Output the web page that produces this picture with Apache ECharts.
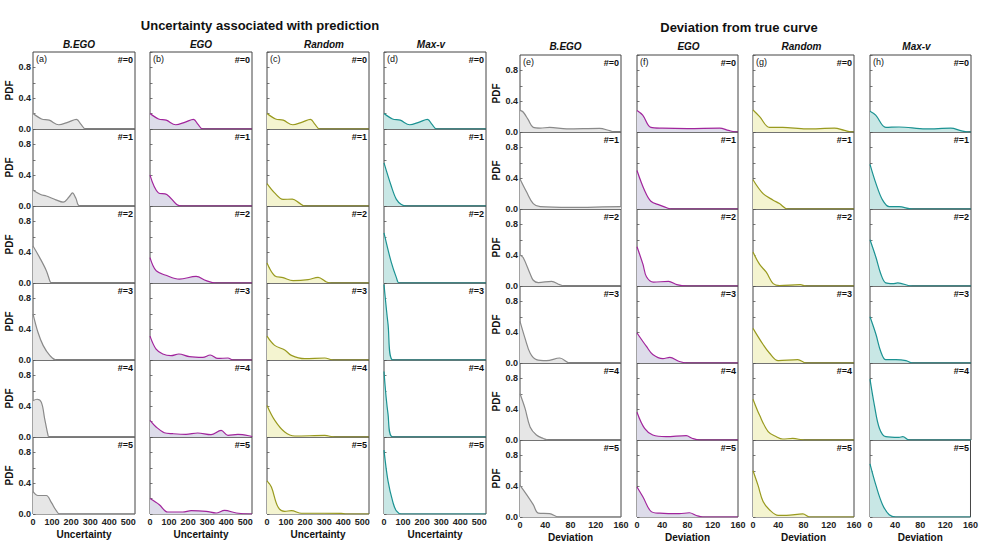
<!DOCTYPE html>
<html>
<head>
<meta charset="utf-8">
<script src="https://cdn.jsdelivr.net/npm/echarts@6/dist/echarts.min.js"></script>
<style>
  html, body { margin: 0; padding: 0; background: #fff; }
  #chart { width: 981px; height: 552px; }
</style>
</head>
<body>
<div id="chart"></div>
<script>
// methods (columns) and rounds (rows)
const methods = ["B.EGO", "EGO", "Random", "Max-v"];
const rounds = [0, 1, 2, 3, 4, 5];
const panelLetters = ["(a)", "(b)", "(c)", "(d)", "(e)", "(f)", "(g)", "(h)"];
const pdfTicks = [0.0, 0.4, 0.8];
const uncTicks = [0, 100, 200, 300, 400, 500];
const devTicks = [0, 40, 80, 120, 160];

// uncertainty PDFs, one curve per round: [uncertainty, pdf]
const uncStart = [[0, 0.2], [45, 0.13], [85, 0.115], [135, 0.055], [185, 0.09], [228, 0.125], [252, 0.06], [276, 0]];
const uncBEGO = [
  uncStart,
  [[0, 0.205], [40, 0.15], [70, 0.13], [120, 0.08], [158, 0.05], [190, 0.12], [207, 0.17], [225, 0.1], [245, 0]],
  [[0, 0.48], [35, 0.33], [70, 0.16], [88, 0.03], [96, 0]],
  [[0, 0.6], [26, 0.36], [53, 0.19], [88, 0.06], [123, 0]],
  [[0, 0.47], [21, 0.49], [44, 0.45], [61, 0.24], [79, 0.02], [84, 0]],
  [[0, 0.29], [26, 0.24], [70, 0.24], [96, 0.15], [123, 0.04], [140, 0]]
];
const uncEGO = [
  uncStart,
  [[0, 0.4], [44, 0.17], [88, 0.15], [140, 0.02], [167, 0]],
  [[0, 0.33], [32, 0.16], [84, 0.1], [154, 0.05], [242, 0.086], [295, 0.03], [347, 0]],
  [[0, 0.31], [32, 0.14], [67, 0.078], [110, 0.056], [151, 0.078], [207, 0.043], [277, 0.034], [316, 0.065], [356, 0.02], [409, 0.026], [435, 0]],
  [[0, 0.215], [32, 0.13], [75, 0.056], [119, 0.043], [189, 0.034], [250, 0.052], [320, 0.03], [373, 0.086], [409, 0.022], [461, 0.034], [531, 0.01]],
  [[0, 0.2], [49, 0.12], [93, 0.026], [172, 0.026], [216, 0.043], [295, 0.034], [347, 0.013], [391, 0.047], [453, 0.013], [523, 0]]
];
const uncRandom = [
  uncStart,
  [[0, 0.29], [40, 0.17], [84, 0.086], [133, 0.09], [172, 0.034], [198, 0]],
  [[0, 0.26], [40, 0.095], [84, 0.069], [137, 0.03], [216, 0.043], [268, 0.073], [312, 0.013], [339, 0]],
  [[0, 0.31], [40, 0.19], [93, 0.13], [128, 0.06], [198, 0.017], [303, 0.026], [347, 0]],
  [[0, 0.41], [40, 0.22], [93, 0.065], [146, 0.013], [303, 0.02], [356, 0]],
  [[0, 0.43], [23, 0.35], [58, 0.09], [93, 0.035], [128, 0.043], [181, 0.01], [300, 0.01], [390, 0.008], [410, 0]]
];
const uncMaxv = [
  uncStart,
  [[0, 0.56], [38, 0.26], [65, 0.086], [91, 0.02], [117, 0]],
  [[0, 0.65], [38, 0.27], [65, 0.07], [80, 0]],
  [[0, 0.98], [21, 0.47], [47, 0]],
  [[0, 0.85], [21, 0.3], [47, 0]],
  [[0, 0.83], [21, 0.43], [47, 0.15], [65, 0.04], [91, 0]]
];

// deviation PDFs, one curve per round: [deviation, pdf]
const devBEGO = [
  [[0, 0.28], [5, 0.26], [13, 0.16], [21, 0.06], [32, 0.05], [47, 0.06], [74, 0.04], [126, 0.047], [142, 0.017], [150, 0]],
  [[0, 0.39], [10.5, 0.22], [21, 0.07], [32, 0.03], [80, 0.02], [158, 0.03], [160, 0.03]],
  [[0, 0.4], [5, 0.37], [16, 0.16], [21, 0.075], [29, 0.045], [50, 0.06], [63, 0.017], [71, 0]],
  [[0, 0.54], [8, 0.32], [16, 0.13], [26, 0.043], [42, 0.03], [63, 0.065], [79, 0]],
  [[0, 0.6], [8, 0.41], [16, 0.17], [26, 0.065], [37, 0.02], [45, 0]],
  [[0, 0.41], [10.5, 0.29], [21, 0.16], [29, 0.05], [47, 0.043], [61, 0]]
];
const devEGO = [
  [[0, 0.28], [9, 0.22], [22, 0.06], [40, 0.05], [80, 0.045], [131, 0.05], [145, 0.02], [158, 0]],
  [[0, 0.5], [12, 0.24], [22, 0.1], [36, 0.05], [49, 0.01], [55, 0]],
  [[0, 0.51], [9.5, 0.28], [15, 0.12], [26, 0.05], [50, 0.06], [63, 0.017], [79, 0]],
  [[0, 0.39], [15, 0.215], [25, 0.11], [41, 0.056], [52, 0.073], [67, 0.02], [83, 0]],
  [[0, 0.36], [12, 0.15], [25, 0.065], [46, 0.043], [78, 0.056], [88, 0.02], [99, 0]],
  [[0, 0.39], [9.5, 0.26], [22.6, 0.07], [36, 0.05], [67, 0.043], [83, 0.055], [94, 0.02], [104, 0]]
];
const devRandom = [
  [[0, 0.285], [10.5, 0.2], [26, 0.06], [47, 0.06], [84, 0.04], [129, 0.05], [145, 0.02], [158, 0]],
  [[0, 0.38], [16, 0.2], [32, 0.115], [42, 0.07], [55, 0]],
  [[0, 0.44], [10.5, 0.28], [21, 0.18], [32, 0.03], [42, 0.005], [75, 0.017], [84, 0]],
  [[0, 0.45], [16, 0.24], [26, 0.13], [40, 0.03], [71, 0.043], [84, 0]],
  [[0, 0.53], [10.5, 0.32], [24, 0.11], [37, 0.043], [47, 0.013], [63, 0.02], [82, 0]],
  [[0, 0.6], [8, 0.41], [16, 0.2], [26, 0.094], [40, 0.02], [53, 0.02], [79, 0.04], [90, 0]]
];
const devMaxv = [
  [[0, 0.27], [9, 0.22], [25, 0.06], [46, 0.065], [88, 0.04], [128, 0.05], [145, 0.015], [157, 0]],
  [[0, 0.58], [9.5, 0.33], [20, 0.115], [30.6, 0.03], [46, 0.03], [67, 0]],
  [[0, 0.6], [9.5, 0.37], [17, 0.16], [25, 0.04], [36, 0.03], [44, 0.04], [67, 0]],
  [[0, 0.6], [9.5, 0.37], [17, 0.15], [25, 0.043], [41, 0.043], [57, 0.03], [67, 0]],
  [[0, 0.79], [7, 0.45], [15, 0.15], [25, 0.043], [46, 0.034], [52, 0.043], [62, 0]],
  [[0, 0.69], [9.5, 0.41], [20, 0.16], [30.6, 0.03], [41, 0]]
];

const FONT = "'Liberation Sans', Arial, sans-serif";
const lineColors = ["#8a8a8a", "#a1259c", "#999a1f", "#1b9292"];
const fillColors = ["#e6e6e6", "#dddcea", "#f4f4d0", "#c8e7e5"];

// layout of the two blocks
const blocks = [
  {
    data: [uncBEGO, uncEGO, uncRandom, uncMaxv],
    lefts: [33, 150, 267, 384], width: 102,
    top: 52, xMax: 535, interval: 100, xName: "Uncertainty",
    title: "Uncertainty associated with prediction", titleX: 260, titleY: 25,
    colTitleY: 44.5, colTitleDx: [-5, 0, 6, -4]
  },
  {
    data: [devBEGO, devEGO, devRandom, devMaxv],
    lefts: [520, 637, 753, 870], width: 101,
    top: 55, xMax: 160, interval: 40, xName: "Deviation",
    title: "Deviation from true curve", titleX: 739, titleY: 27.5,
    colTitleY: 46.5, colTitleDx: [-5, 1, -2, -4]
  }
];
const rowH = 77;

const grids = [], xAxes = [], yAxes = [], series = [], graphics = [];

blocks.forEach((b, bi) => {
  graphics.push({
    type: "text", x: b.titleX, y: b.titleY,
    style: { text: b.title, font: "bold 13px " + FONT, fill: "#111", textAlign: "center", textVerticalAlign: "middle" }
  });
  methods.forEach((m, ci) => {
    const left = b.lefts[ci];
    graphics.push({
      type: "text", x: left + b.width / 2 + b.colTitleDx[ci], y: b.colTitleY,
      style: { text: m, font: "italic bold 10px " + FONT, fill: "#111", textAlign: "center", textVerticalAlign: "middle" }
    });
    rounds.forEach((r, ri) => {
      const idx = grids.length;
      const top = b.top + ri * rowH;
      const first = ci === 0;
      const last = ri === rounds.length - 1;
      grids.push({
        left: left, top: top, width: b.width, height: rowH,
        show: true, borderColor: "#454545", borderWidth: 1, backgroundColor: "transparent"
      });
      xAxes.push({
        type: "value", gridIndex: idx, min: 0, max: b.xMax, interval: b.interval,
        axisLine: { show: false }, axisTick: { show: false }, splitLine: { show: false },
        axisLabel: {
          show: last, margin: 3, fontSize: 9, fontWeight: "bold", color: "#222", fontFamily: FONT,
          showMaxLabel: true,
          formatter: v => (bi === 0 ? uncTicks : devTicks).includes(v) ? String(v) : ""
        },
        name: last ? b.xName : "", nameLocation: "middle", nameGap: 15,
        nameTextStyle: { fontSize: 10, fontWeight: "bold", color: "#111", fontFamily: FONT }
      });
      yAxes.push({
        type: "value", gridIndex: idx, min: 0, max: 1.0, interval: 0.2,
        axisLine: { show: false }, splitLine: { show: false },
        axisTick: { show: true, inside: true, length: 2.5, lineStyle: { color: "#555", width: 0.8 } },
        axisLabel: {
          show: first, margin: 2, fontSize: 9, fontWeight: "bold", color: "#222", fontFamily: FONT,
          showMaxLabel: false,
          formatter: v => pdfTicks.some(t => Math.abs(t - v) < 1e-6) ? v.toFixed(1) : ""
        },
        name: first ? "PDF" : "", nameLocation: "middle", nameGap: 18, nameRotate: 90,
        nameTextStyle: { fontSize: 10, fontWeight: "bold", color: "#111", fontFamily: FONT }
      });
      const pts = b.data[ci][ri].slice();
      if (pts[pts.length - 1][0] < b.xMax) pts.push([b.xMax, 0]);
      series.push({
        type: "line", xAxisIndex: idx, yAxisIndex: idx, data: pts,
        smooth: 0.35, showSymbol: false, silent: true, clip: true,
        lineStyle: { color: lineColors[ci], width: 1.2 },
        areaStyle: { color: fillColors[ci], opacity: 1 },
        z: 2
      });
      if (ri === 0) {
        graphics.push({
          type: "text", x: left + 3, y: top + 7,
          style: { text: panelLetters[bi * 4 + ci], font: "9px " + FONT, fill: "#111", textVerticalAlign: "middle" }
        });
      }
      graphics.push({
        type: "text", x: left + b.width - 2, y: top + 7.5,
        style: { text: "#=" + r, font: "bold 9px " + FONT, fill: "#111", textAlign: "right", textVerticalAlign: "middle" }
      });
    });
  });
});

const chart = echarts.init(document.getElementById("chart"), null, { renderer: "svg" });
chart.setOption({
  animation: false,
  backgroundColor: "#fff",
  grid: grids,
  xAxis: xAxes,
  yAxis: yAxes,
  series: series,
  graphic: graphics
});
</script>
</body>
</html>
